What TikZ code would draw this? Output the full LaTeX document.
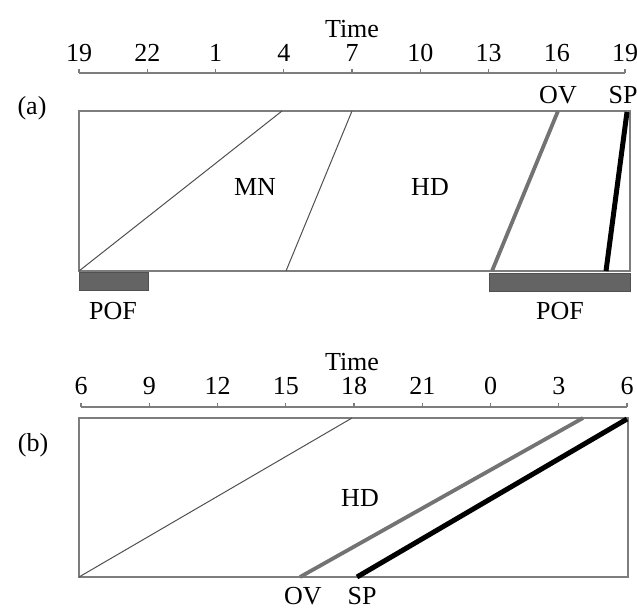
\documentclass[tikz,border=0pt]{standalone}
\usepackage{fontspec}
\setmainfont{Liberation Serif}
\usetikzlibrary{positioning, calc}
\definecolor{framegray}{RGB}{125, 125, 125}
\definecolor{thingray}{RGB}{80, 80, 80}
\definecolor{ovgray}{RGB}{115, 115, 115}
\definecolor{pofgray}{RGB}{100, 100, 100}
\tikzset{
  lbl/.style={inner sep=0pt, font=\fontsize{13}{15}\selectfont},
  panelbox/.style={draw=framegray, line width=0.75pt},
  axisline/.style={draw=framegray, line width=0.7pt},
  thinline/.style={draw=thingray, line width=0.5pt},
  ovline/.style={draw=ovgray, line width=1.9pt},
  spline/.style={draw=black, line width=2.5pt},
  pofbar/.style={draw=pofgray!80!black, fill=pofgray, line width=0.5pt}
}

\begin{document}
\begin{tikzpicture}[x=0.5pt, y=-0.5pt]
    \useasboundingbox (0, 0) rectangle (637, 611);

    % Panel (a)
    \node[lbl] (PanelA) at (32, 108) {(a)};
    \node[lbl] (TimeA) at (352, 29) {Time};
    \draw[axisline] (79, 73) -- (625, 73);
    \foreach \hr [count=\i from 0] in {19, 22, 1, 4, 7, 10, 13, 16, 19} {
        \draw[axisline] ({79 + 68.25*\i}, 73) -- ++(0, -4);
        \node[lbl] (TickA\i) at ({79 + 68.25*\i}, 53) {\hr};
    }
    \draw[panelbox] (79, 111) rectangle (630, 271);
    \coordinate (MnBot) at (79, 271);   \coordinate (MnTop) at (282, 111);
    \coordinate (HdBot) at (286, 271);  \coordinate (HdTop) at (352, 111);
    \coordinate (OvBotA) at (492, 271); \coordinate (OvTopA) at (558, 111);
    \coordinate (SpBotA) at (606, 271); \coordinate (SpTopA) at (627, 112);
    \draw[thinline] (MnBot) -- (MnTop);
    \draw[thinline] (HdBot) -- (HdTop);
    \draw[ovline] (OvBotA) -- (OvTopA);
    \draw[spline] (SpBotA) -- (SpTopA);
    \node[lbl] (MN) at (255, 187) {MN};
    \node[lbl] (HDa) at (430, 187) {HD};
    \node[lbl] (OVa) at (558, 95) {OV};
    \node[lbl] (SPa) at (623, 95) {SP};
    % night bars
    \draw[pofbar] (79, 272) rectangle (148, 290);
    \draw[pofbar] (489, 273) rectangle (630, 291);
    \node[lbl] (PofLeft) at (113, 311) {POF};
    \node[lbl] (PofRight) at (560, 311) {POF};

    % Panel (b)
    \node[lbl] (PanelB) at (33, 445) {(b)};
    \node[lbl] (TimeB) at (352, 362) {Time};
    \draw[axisline] (81, 407) -- (627, 407);
    \foreach \hr [count=\i from 0] in {6, 9, 12, 15, 18, 21, 0, 3, 6} {
        \draw[axisline] ({81 + 68.25*\i}, 407) -- ++(0, -4);
        \node[lbl] (TickB\i) at ({81 + 68.25*\i}, 386) {\hr};
    }
    \draw[panelbox] (79, 418) rectangle (628, 577);
    \coordinate (HdBotB) at (79, 577);  \coordinate (HdTopB) at (352, 418);
    \coordinate (OvBotB) at (300, 577); \coordinate (OvTopB) at (583, 418);
    \coordinate (SpBotB) at (357, 577); \coordinate (SpTopB) at (627, 419);
    \draw[thinline] (HdBotB) -- (HdTopB);
    \draw[ovline] (OvBotB) -- (OvTopB);
    \draw[spline] (SpBotB) -- (SpTopB);
    \node[lbl] (HDb) at (360, 498) {HD};
    \node[lbl] (OVb) at (303, 596) {OV};
    \node[lbl] (SPb) at (362, 596) {SP};
\end{tikzpicture}
\end{document}
